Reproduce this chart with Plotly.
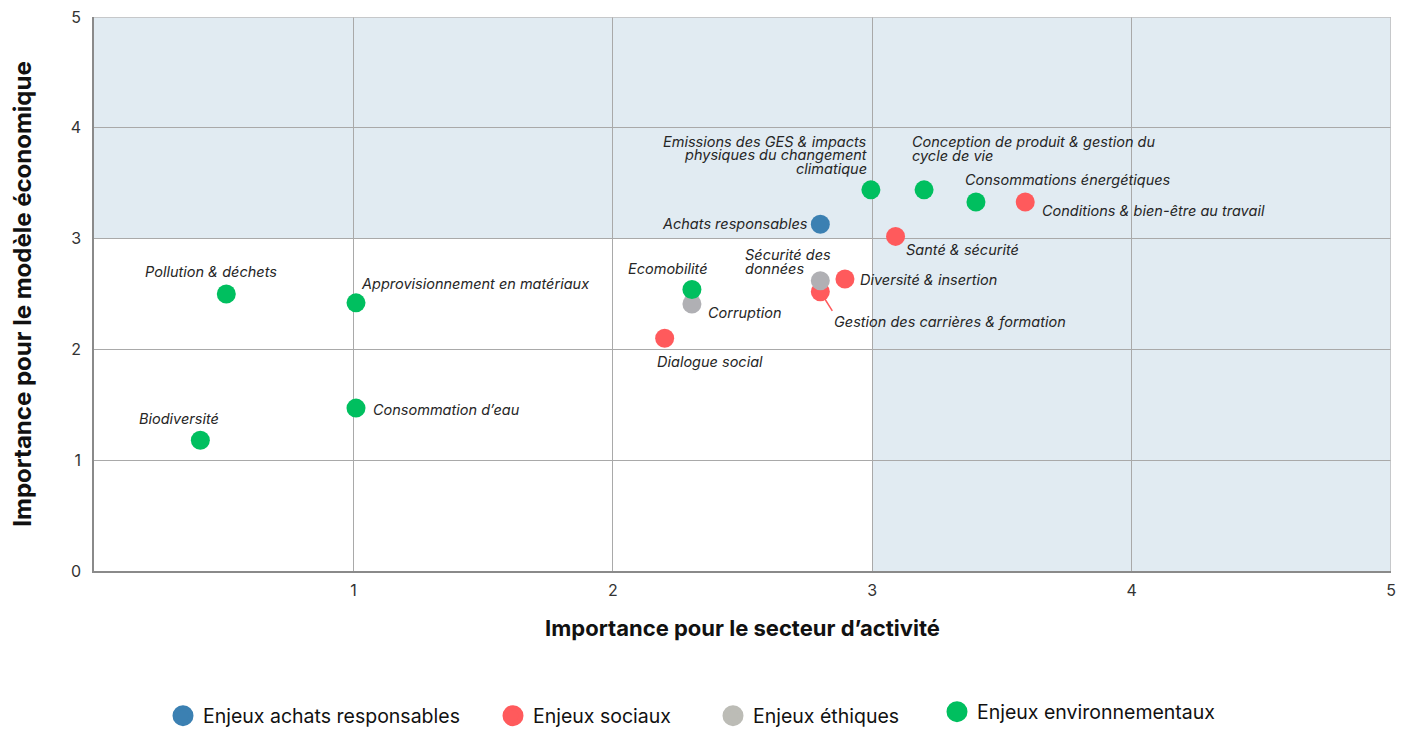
import plotly.graph_objects as go

# ---- data ----
categories = ["Enjeux achats responsables", "Enjeux sociaux", "Enjeux éthiques", "Enjeux environnementaux"]
colors = ["#3b80b2", "#ff5a5c", "#b0b0b4", "#00bf5f"]
legend_colors = ["#3b80b2", "#ff5a5c", "#bcbcb6", "#00bf5f"]

labels = [
    "Achats responsables",
    "Santé & sécurité", "Conditions & bien-être au travail", "Diversité & insertion",
    "Gestion des carrières & formation", "Dialogue social",
    "Sécurité des<br>données", "Corruption",
    "Emissions des GES & impacts<br>physiques du changement<br>climatique",
    "Conception de produit & gestion du<br>cycle de vie", "Consommations énergétiques",
    "Ecomobilité", "Pollution & déchets", "Approvisionnement en matériaux",
    "Consommation d’eau", "Biodiversité",
]
x_sector = [2.80, 3.09, 3.59, 2.895, 2.80, 2.20, 2.80, 2.305, 2.995, 3.20, 3.40, 2.305, 0.51, 1.01, 1.01, 0.41]
y_model = [3.13, 3.02, 3.33, 2.635, 2.52, 2.10, 2.62, 2.41, 3.44, 3.44, 3.33, 2.54, 2.50, 2.42, 1.47, 1.18]
group = [0, 1, 1, 1, 1, 1, 2, 2, 3, 3, 3, 3, 3, 3, 3, 3]

x_ticks = [1, 2, 3, 4, 5]
y_ticks = [0, 1, 2, 3, 4, 5]

# ---- label placement (style): (xanchor, xshift px, yshift px of first line, align) ----
label_pos = [
    ("right", -10, 1, "right"),
    ("left", 8, -13, "left"),
    ("left", 15, -8, "left"),
    ("left", 13, 0, "left"),
    (None, 0, 0, "left"),
    ("left", -10, -24, "left"),
    ("left", -77, 26, "left"),
    ("left", 14, -9, "left"),
    ("right", -2, 48, "right"),
    ("left", -14, 48, "left"),
    ("left", -13, 22, "left"),
    ("center", -24, 21, "center"),
    ("center", -15, 23, "center"),
    ("left", 3, 19, "left"),
    ("left", 15, -1, "left"),
    ("center", -21, 22, "center"),
]
LINE_H = 13.5

# page body has an 8px margin: layout is compensated for it
W, H = 1408, 731
OFF = 8
legend_marker_x = [183, 513, 733, 957]   # target screen px of legend symbols
legend_marker_y = [716, 716, 716, 712]

FONT = "Inter, Roboto, 'Open Sans', sans-serif"
TXT = "#262626"

fig = go.Figure()

# quadrant shading
fig.add_shape(type="rect", xref="x", yref="y", x0=0, x1=5, y0=3, y1=5,
              fillcolor="#e1ebf2", line_width=0, layer="below")
fig.add_shape(type="rect", xref="x", yref="y", x0=3, x1=5, y0=0, y1=3,
              fillcolor="#e1ebf2", line_width=0, layer="below")

legend_names = ["legend", "legend2", "legend3", "legend4"]
for gi, cat in enumerate(categories):
    xs = [x for x, g in zip(x_sector, group) if g == gi]
    ys = [y for y, g in zip(y_model, group) if g == gi]
    fig.add_trace(go.Scatter(
        x=xs, y=ys, mode="markers", name=cat,
        marker=dict(size=19, color=colors[gi], line_width=0),
        showlegend=False, hoverinfo="skip"))
    # legend-only entry
    fig.add_trace(go.Scatter(
        x=[None], y=[None], mode="markers", name=cat,
        marker=dict(size=16, color=legend_colors[gi],
                    line=dict(width=5, color=legend_colors[gi])),
        showlegend=True, legend=legend_names[gi]))

for lab, x, y, g, pos in zip(labels, x_sector, y_model, group, label_pos):
    xa, xs_, ys_, al = pos
    if xa is None:
        # label with leader line
        fig.add_annotation(x=x, y=y, xref="x", yref="y", text=lab,
                           showarrow=True, arrowhead=0, arrowwidth=1.5,
                           arrowcolor=colors[g], standoff=5,
                           ax=12, ay=19, xanchor="left", yanchor="top",
                           font=dict(family=FONT, size=14.5, color=TXT, style="italic"))
        continue
    for li, line in enumerate(lab.split("<br>")):
        fig.add_annotation(x=x, y=y, xref="x", yref="y", text=line,
                           showarrow=False, xanchor=xa, yanchor="middle", align=al,
                           xshift=xs_, yshift=ys_ - li * LINE_H,
                           font=dict(family=FONT, size=14.5, color=TXT, style="italic"))

fig.update_xaxes(range=[0, 5], tickvals=x_ticks, ticktext=[str(v) for v in x_ticks],
                 showgrid=True, gridcolor="#a9a9a9", gridwidth=1, zeroline=False,
                 showline=True, linecolor="#8a8a8a", linewidth=1.5, automargin=False,
                 ticklabeloverflow="allow",
                 tickfont=dict(family=FONT, size=16, color="#333"), ticks="", ticklabelstandoff=4,
                 title=dict(text="Importance pour le secteur d’activité",
                            font=dict(family=FONT, size=22, color="#111", weight="bold"), standoff=22))
fig.update_yaxes(range=[0, 5], tickvals=y_ticks, ticktext=[str(v) for v in y_ticks],
                 showgrid=True, gridcolor="#a9a9a9", gridwidth=1, zeroline=False,
                 showline=True, linecolor="#8a8a8a", linewidth=1.5, automargin=False,
                 ticklabeloverflow="allow",
                 tickfont=dict(family=FONT, size=16, color="#333"), ticks="", ticklabelstandoff=8,
                 title=dict(text="Importance pour le modèle économique",
                            font=dict(family=FONT, size=24, color="#111", weight="bold"), standoff=36))

# top / right light border
fig.add_shape(type="line", xref="x", yref="y", x0=0, x1=5, y0=5, y1=5, line=dict(color="#bdbdbd", width=1.5))
fig.add_shape(type="line", xref="x", yref="y", x0=5, x1=5, y0=0, y1=5, line=dict(color="#bdbdbd", width=1.5))

legend_layout = {}
for i, ln in enumerate(legend_names):
    legend_layout[ln] = dict(
        orientation="h", xref="container", yref="container",
        x=(legend_marker_x[i] - OFF - 20) / W, xanchor="left",
        y=1 - (legend_marker_y[i] - OFF) / H, yanchor="middle",
        font=dict(family=FONT, size=19.5, color="#111"),
        itemsizing="trace", bgcolor="rgba(0,0,0,0)", borderwidth=0)

fig.update_layout(
    width=W, height=H,
    margin=dict(l=94 - OFF, r=W + OFF - 1391, t=17 - OFF, b=H + OFF - 571, autoexpand=False),
    plot_bgcolor="white", paper_bgcolor="white",
    font=dict(family=FONT, color=TXT),
    **legend_layout,
)

fig.write_html("out.html")
